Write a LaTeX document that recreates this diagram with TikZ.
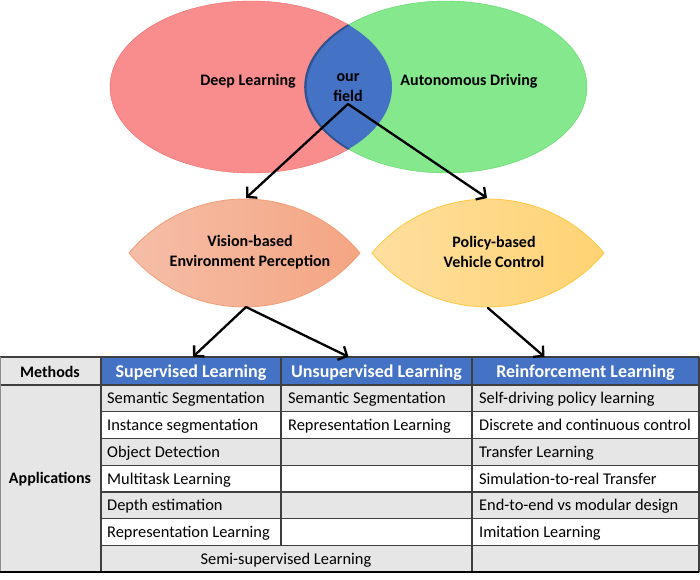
\documentclass[tikz,border=0pt]{standalone}
\usepackage{fontspec}
\setmainfont{Carlito}
\usetikzlibrary{arrows.meta}

\definecolor{dlred}{HTML}{F98D8D}
\definecolor{dlredline}{HTML}{F06A6A}
\definecolor{adgreen}{HTML}{85E88D}
\definecolor{adgreenline}{HTML}{5CD665}
\definecolor{ourblue}{HTML}{4472C4}
\definecolor{ourblueline}{HTML}{2F528F}
\definecolor{visleft}{HTML}{F5BEA7}
\definecolor{visright}{HTML}{F4A582}
\definecolor{visline}{HTML}{F39D78}
\definecolor{polleft}{HTML}{FFDF9F}
\definecolor{polright}{HTML}{FFD373}
\definecolor{polline}{HTML}{FFC840}
\definecolor{cellgray}{HTML}{E7E6E6}
\definecolor{gridgray}{HTML}{3F3F3F}

\begin{document}
\begin{tikzpicture}[
	x=1pt, y=-1pt,
	every node/.style={font=\fontsize{16}{20}\selectfont},
	title/.style={font=\fontsize{16}{20}\selectfont\bfseries, align=center},
	hdr/.style={font=\fontsize{18}{22}\selectfont\bfseries, text=white,
		minimum height=28pt, text height=15pt, text depth=3pt, inner sep=0pt},
	cell/.style={anchor=base west, inner sep=0pt, font=\fontsize{16.4}{20}\selectfont},
	link/.style={line width=2.3pt, -{Straight Barb[length=7pt,width=15pt,line width=2.3pt]}},
	grid/.style={draw=gridgray, line width=1.2pt},
	line cap=round,
	line join=round
	]
	
	\useasboundingbox (0,0) rectangle (700,579);
	
	% Venn diagram
	\filldraw[fill=dlred, draw=dlredline] (251,87) ellipse [x radius=141, y radius=86];
	\filldraw[fill=adgreen, draw=adgreenline] (446,87) ellipse [x radius=141, y radius=86];
	\begin{scope}
		\clip (251,87) ellipse [x radius=141, y radius=86];
		\filldraw[fill=ourblue, draw=ourblueline, line width=1.6pt] (446,87) ellipse [x radius=141, y radius=86];
	\end{scope}
	\draw[ourblueline, line width=0.8pt] (349.2,25.3) arc [start angle=-134.0, end angle=-226.0, x radius=141, y radius=86] ;
	
	\node[title] (dl) at (248,81) {Deep Learning};
	\node[title] (ad) at (469,81) {Autonomous Driving};
	\node[title] (our) at (348,88) {our\\field};
	\coordinate (fork) at (348,104);
	
	% Lenses
	\shadedraw[left color=visleft, right color=visright, draw=visline, line width=0.8pt]
	(129,253) .. controls (189,181) and (300,181) .. (360,253)
	.. controls (300,325) and (189,325) .. cycle;
	\shadedraw[left color=polleft, right color=polright, draw=polline, line width=0.8pt]
	(372,253) .. controls (432,181) and (544,181) .. (604,253)
	.. controls (544,325) and (432,325) .. cycle;
	
	\node[title] (vision) at (250,252) {Vision-based\\Environment Perception};
	\node[title] (policy) at (494,252) {Policy-based\\Vehicle Control};
	\coordinate (visT) at (246,198);
	\coordinate (visB) at (246,307);
	\coordinate (polT) at (487,198);
	\coordinate (polB) at (488,308);
	
	% Table cells
	\fill[cellgray] (0,357) rectangle (101,572);
	\fill[ourblue] (101,357) rectangle (699,385);
	\foreach \r in {1,3,5,7}
	\fill[cellgray] (101,{385+(\r-1)*26.75}) rectangle (699,{385+\r*26.75});
	
	% Table lines
	\foreach \r in {1,...,6}
	\draw[grid] (101,{385+\r*26.75}) -- (699,{385+\r*26.75});
	\draw[grid] (0,385) -- (699,385);
	\draw[grid] (281,357) -- (281,545.5);
	\draw[grid] (472,357) -- (472,572);
	\draw[grid, line width=2pt] (101,357) -- (101,572);
	\draw[grid] (0,357) -- (699,357) -- (699,572);
	\draw[gridgray!60, line width=0.8pt] (0,357) -- (0,572);
	\draw[black, line width=2.2pt, line cap=butt] (0,572) -- (699,572);
	
	% Headers
	\node[hdr, text=black, font=\fontsize{16}{20}\selectfont\bfseries, minimum width=101pt] (meth) at (50,371) {Methods};
	\node[font=\fontsize{16}{20}\selectfont\bfseries] (appl) at (50,479) {Applications};
	\node[hdr, minimum width=180pt] (sup) at (191,371) {Supervised Learning};
	\node[hdr, minimum width=191pt] (uns) at (376.5,371) {Unsupervised Learning};
	\node[hdr, minimum width=227pt] (rei) at (585.5,371) {Reinforcement Learning};
	
	% Applications
	\foreach \i/\t in {1/Semantic Segmentation, 2/Instance segmentation,
		3/Object Detection, 4/Multitask Learning, 5/Depth estimation,
		6/Representation Learning}
	\node[cell] (sup-\i) at (107,{385+(\i-0.5)*26.75+5.5}) {\t};
	\foreach \i/\t in {1/Semantic Segmentation, 2/Representation Learning}
	\node[cell] (uns-\i) at (288,{385+(\i-0.5)*26.75+5.5}) {\t};
	\foreach \i/\t in {1/Self-driving policy learning, 2/Discrete and continuous control,
		3/Transfer Learning, 4/Simulation-to-real Transfer,
		5/End-to-end vs modular design, 6/Imitation Learning}
	\node[cell] (rei-\i) at (479,{385+(\i-0.5)*26.75+5.5}) {\t};
	\node[cell, anchor=base] (semi) at (286,{385+6.5*26.75+5.5}) {Semi-supervised Learning};
	
	% Arrows
	\draw[link] (fork) -- (visT);
	\draw[link] (fork) -- (polT);
	\draw[link] (visB) -- ([xshift=2pt]sup.north);
	\draw[link] (visB) -- ([xshift=-28pt]uns.north);
	\draw[link] (polB) -- ([xshift=-41pt]rei.north);
	
\end{tikzpicture}
\end{document}
